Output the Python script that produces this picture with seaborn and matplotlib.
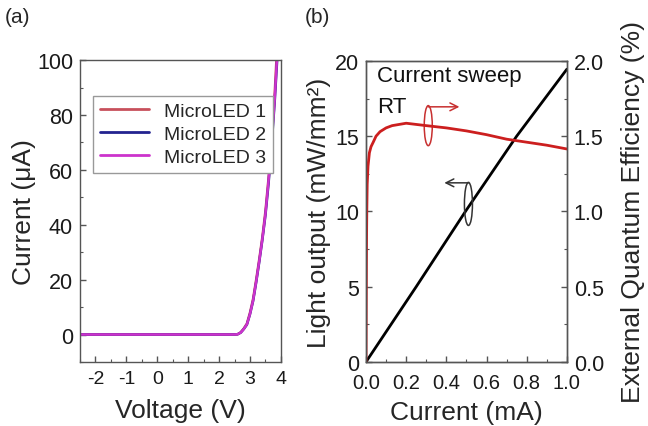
import numpy as np
import pandas as pd
import matplotlib
matplotlib.use("Agg")
import matplotlib.pyplot as plt
from matplotlib.patches import Ellipse
from matplotlib.ticker import MultipleLocator, FormatStrFormatter
import seaborn as sns

# ---------------- data ----------------
voltage = [-2.5, 0.0, 2.5, 2.6, 2.7, 2.8, 2.9, 3.0, 3.1, 3.2, 3.3, 3.4, 3.5, 3.6, 3.7, 3.8, 3.9]
current_led1 = [0, 0, 0, 0.1, 0.8, 2.2, 4.0, 8.0, 13.0, 20.0, 27.5, 35.5, 45.0, 57.0, 71.0, 88.0, 110.0]
current_led2 = [0, 0, 0, 0.1, 0.7, 2.0, 3.6, 7.4, 12.2, 19.0, 26.5, 34.5, 43.5, 55.0, 69.0, 85.0, 104.0]
current_led3 = [0, 0, 0, 0.1, 0.7, 2.0, 3.7, 7.5, 12.4, 19.3, 26.8, 34.8, 44.0, 56.0, 70.0, 86.0, 106.0]
led_names = ["MicroLED 1", "MicroLED 2", "MicroLED 3"]
led_colors = ["#c8505c", "#23238f", "#cc33cc"]

lo_current = [0.0, 0.1, 0.25, 0.5, 0.75, 1.0]
light_output = [0.0, 2.0, 5.0, 10.1, 15.0, 19.45]

eqe_current = [0.0, 0.001, 0.002, 0.003, 0.004, 0.006, 0.01, 0.017, 0.025, 0.036, 0.05,
               0.07, 0.1, 0.13, 0.2, 0.3, 0.4, 0.5, 0.6, 0.7, 0.8, 0.9, 1.0]
eqe = [0.0, 0.35, 0.65, 0.85, 1.0, 1.18, 1.3, 1.39, 1.43, 1.46, 1.5,
       1.53, 1.555, 1.57, 1.586, 1.57, 1.555, 1.535, 1.51, 1.48, 1.46, 1.44, 1.415]

# ---------------- style ----------------
sns.set_theme(style="ticks")
plt.rcParams["font.family"] = ["Liberation Sans", "DejaVu Sans"]
plt.rcParams["axes.edgecolor"] = "#555555"
plt.rcParams["axes.linewidth"] = 1.0
plt.rcParams["xtick.color"] = "#555555"
plt.rcParams["ytick.color"] = "#555555"
plt.rcParams["xtick.labelcolor"] = "#1a1a1a"
plt.rcParams["ytick.labelcolor"] = "#1a1a1a"

fig = plt.figure(figsize=(6.48, 4.27), dpi=100)

YTICK_FS = 15.5
XTICK_FS = 14
LABEL_FS = 19

def style_ticks(ax, xfs, xpad):
    ax.tick_params(which="both", direction="in", top=False, right=False)
    ax.tick_params(which="major", length=4, width=1)
    ax.tick_params(which="minor", length=2.2, width=0.8)
    ax.tick_params(axis="x", labelsize=xfs, pad=xpad)
    ax.tick_params(axis="y", labelsize=YTICK_FS, pad=5)

# ---------------- panel (a) ----------------
ax1 = fig.add_axes([0.1235, 0.150, 0.310, 0.707])
iv = pd.DataFrame({
    "Voltage": voltage * 3,
    "Current": current_led1 + current_led2 + current_led3,
    "Device": [led_names[0]] * len(voltage) + [led_names[1]] * len(voltage) + [led_names[2]] * len(voltage),
})
sns.lineplot(data=iv, x="Voltage", y="Current", hue="Device", palette=led_colors,
             linewidth=1.8, ax=ax1, sort=False, estimator=None)
ax1.set_xlim(-2.5, 4)
ax1.set_ylim(-10, 100)
ax1.xaxis.set_minor_locator(MultipleLocator(0.5))
ax1.yaxis.set_major_locator(MultipleLocator(20))
ax1.yaxis.set_minor_locator(MultipleLocator(10))
ax1.set_xticks(range(-2, 5))
ax1.set_xticklabels(["-2", "-1", "0", "1", "2", "3", "4"])
style_ticks(ax1, XTICK_FS, 6)
ax1.set_xlabel("Voltage (V)", fontsize=LABEL_FS, labelpad=8)
ax1.set_ylabel("Current (μA)", fontsize=LABEL_FS, labelpad=1)
leg = ax1.legend(loc="upper left", bbox_to_anchor=(0.065, 0.882), fontsize=14,
                 frameon=True, fancybox=False, framealpha=1, edgecolor="#999999",
                 handlelength=2.5, labelspacing=0.28, borderpad=0.35, handletextpad=0.8,
                 borderaxespad=0)
leg.get_frame().set_linewidth(1.0)
for line in leg.get_lines():
    line.set_linewidth(2.0)

# ---------------- panel (b) ----------------
ax2 = fig.add_axes([0.5648, 0.150, 0.310, 0.705])
ax3 = ax2.twinx()
sns.lineplot(x=lo_current, y=light_output, color="black", linewidth=2.0, ax=ax2)
sns.lineplot(x=eqe_current, y=eqe, color="#cc1f1f", linewidth=2.0, ax=ax3)
ax2.set_xlim(0, 1.0)
ax2.set_ylim(0, 20)
ax3.set_ylim(0, 2.0)
ax2.xaxis.set_major_locator(MultipleLocator(0.2))
ax2.xaxis.set_minor_locator(MultipleLocator(0.1))
ax2.yaxis.set_major_locator(MultipleLocator(5))
ax2.yaxis.set_minor_locator(MultipleLocator(2.5))
ax3.yaxis.set_major_locator(MultipleLocator(0.5))
ax3.yaxis.set_minor_locator(MultipleLocator(0.25))
ax2.xaxis.set_major_formatter(FormatStrFormatter("%.1f"))
ax3.yaxis.set_major_formatter(FormatStrFormatter("%.1f"))
style_ticks(ax2, 14.5, 8)
ax3.tick_params(which="both", direction="in", right=True, left=False, top=False)
ax3.tick_params(which="major", length=4, width=1, pad=5, labelsize=YTICK_FS)
ax3.tick_params(which="minor", length=2.2, width=0.8)
ax2.set_xlabel("Current (mA)", fontsize=LABEL_FS, labelpad=6)
ax2.set_ylabel("Light output (mW/mm²)", fontsize=LABEL_FS, labelpad=3)
ax3.set_ylabel("External Quantum Efficiency (%)", fontsize=LABEL_FS, labelpad=12)

ax3.text(0.055, 1.90, "Current sweep", fontsize=16, va="center", ha="left", color="#111111")
ax3.text(0.055, 1.70, "RT", fontsize=16, va="center", ha="left", color="#111111")

# ellipse + arrow annotations
red_c = "#c83030"
ax3.add_patch(Ellipse((0.31, 1.57), 0.04, 0.266, fill=False, edgecolor=red_c, linewidth=1.1))
ax3.annotate("", xy=(0.465, 1.695), xytext=(0.31, 1.695),
             arrowprops=dict(arrowstyle="->", color=red_c, lw=1.1, shrinkA=0, shrinkB=0,
                             mutation_scale=14))
ax3.add_patch(Ellipse((0.51, 1.05), 0.04, 0.286, fill=False, edgecolor="#333333", linewidth=1.1))
ax3.annotate("", xy=(0.39, 1.19), xytext=(0.51, 1.19),
             arrowprops=dict(arrowstyle="->", color="#333333", lw=1.1, shrinkA=0, shrinkB=0,
                             mutation_scale=14))

fig.text(0.008, 0.958, "(a)", fontsize=15, va="center", ha="left")
fig.text(0.471, 0.958, "(b)", fontsize=15, va="center", ha="left")

fig.savefig("out.png", dpi=100)
